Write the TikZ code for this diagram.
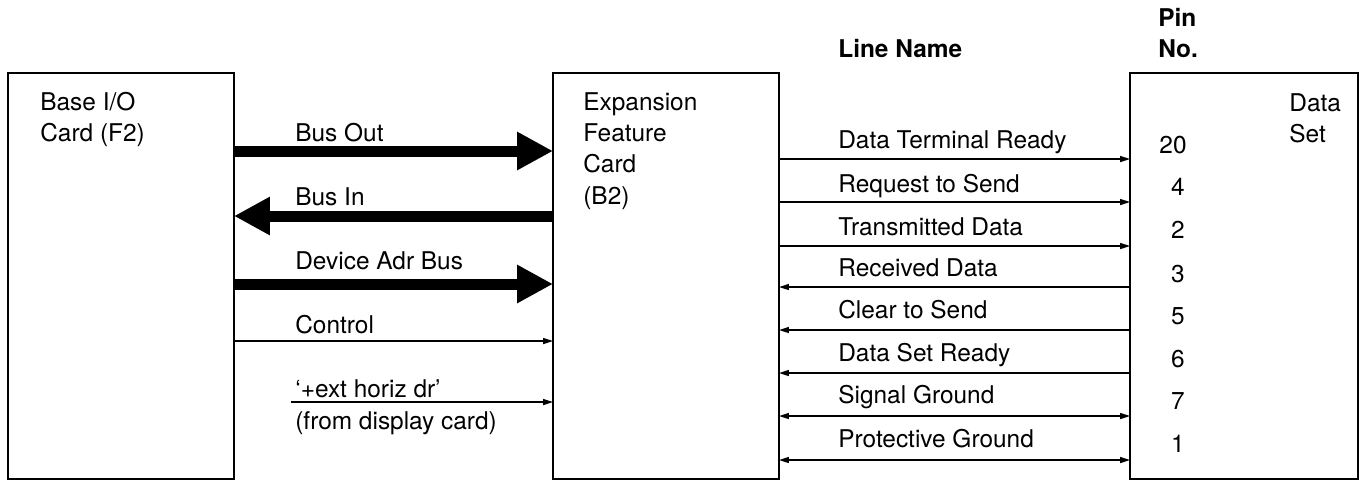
\documentclass[tikz,border=0pt]{standalone}
\usepackage{fontspec}
\setmainfont{TeX Gyre Heros}
\usetikzlibrary{arrows.meta, positioning}

\begin{document}
\begin{tikzpicture}[x=0.02cm, y=-0.02cm]
    % Setup the styles for the cards, texts and lines
        \tikzset{card style/.style={draw,
                                    line width=0.04cm,
                                    minimum width=4.52cm,
                                    minimum height=8.12cm,
                                    inner sep=0pt, outer sep=0pt},
                 text style/.style={anchor=base west,
                                    inner sep=0pt,
                                    font=\fontsize{13.9}{16}\selectfont},
                 pin style/.style={text style, anchor=base},
                 head style/.style={text style, font=\fontsize{13.9}{16}\selectfont\bfseries},
                 bus style/.style={line width=0.22cm,
                                   -{Triangle[length=0.72cm, width=0.72cm]}},
                 wire style/.style={line width=0.03cm,
                                    >={Triangle[length=0.2cm, width=0.12cm]}}}
        \useasboundingbox (0,0) rectangle (1361,481);
        % Draw the cards
        \node[card style] at (121, 276)  (base)      {};
        \node[card style] at (666, 276)  (expansion) {};
        \node[card style, minimum width=4.56cm] at (1244, 276) (dataset) {};
        \node[text style] at (40, 110)   (base1) {Base I/O};
        \node[text style] at (40, 141)   (base2) {Card (F2)};
        \node[text style] at (583, 110)  (exp1)  {Expansion};
        \node[text style] at (583, 141)  (exp2)  {Feature};
        \node[text style] at (583, 172)  (exp3)  {Card};
        \node[text style] at (583, 204)  (exp4)  {(B2)};
        \node[text style] at (1289, 111) (dset1) {Data};
        \node[text style] at (1289, 142) (dset2) {Set};
        % Headings
        \node[head style] at (838, 57)   (linename) {Line Name};
        \node[head style] at (1158, 26)  (pinhead)  {Pin};
        \node[head style] at (1158, 57)  (nohead)   {No.};
        % Buses between the base card and the expansion card
        \node[text style] at (295, 141) (busout) {Bus Out};
        \node[text style] at (295, 205) (busin)  {Bus In};
        \node[text style] at (295, 269) (devadr) {Device Adr Bus};
        \node[text style] at (295, 333) (control) {Control};
        \node[text style] at (295, 397) (exthoriz) {`+ext horiz dr'};
        \node[text style] at (295, 429) (fromdisp) {(from display card)};
        \coordinate (extfrom) at (291, 402);
        \draw[bus style] (base.east |- 0,151) -- (expansion.west |- 0,151);
        \draw[bus style] (expansion.west |- 0,216) -- (base.east |- 0,216);
        \draw[bus style] (base.east |- 0,284) -- (expansion.west |- 0,284);
        \draw[wire style, ->] (base.east |- 0,341) -- (expansion.west |- 0,341);
        \draw[wire style, ->] (extfrom) -- (expansion.west |- extfrom);
        % Lines to the data set
        \node[text style] at (838, 148) (dtr) {Data Terminal Ready};
        \node[text style] at (838, 192) (rts) {Request to Send};
        \node[text style] at (838, 235) (td)  {Transmitted Data};
        \node[text style] at (838, 276) (rd)  {Received Data};
        \node[text style] at (838, 318) (cts) {Clear to Send};
        \node[text style] at (838, 361) (dsr) {Data Set Ready};
        \node[text style] at (838, 403) (sg)  {Signal Ground};
        \node[text style] at (838, 447) (pg)  {Protective Ground};
        \node[pin style] at (1173, 153) (pin20) {20};
        \node[pin style] at (1178, 195) (pin4)  {4};
        \node[pin style] at (1178, 238) (pin2)  {2};
        \node[pin style] at (1178, 282) (pin3)  {3};
        \node[pin style] at (1178, 324) (pin5)  {5};
        \node[pin style] at (1178, 367) (pin6)  {6};
        \node[pin style] at (1178, 409) (pin7)  {7};
        \node[pin style] at (1178, 452) (pin1)  {1};
        \draw[wire style, ->]  (expansion.east |- 0,159) -- (dataset.west |- 0,159);
        \draw[wire style, ->]  (expansion.east |- 0,202) -- (dataset.west |- 0,202);
        \draw[wire style, ->]  (expansion.east |- 0,246) -- (dataset.west |- 0,246);
        \draw[wire style, <-]  (expansion.east |- 0,287) -- (dataset.west |- 0,287);
        \draw[wire style, <-]  (expansion.east |- 0,330) -- (dataset.west |- 0,330);
        \draw[wire style, <-]  (expansion.east |- 0,373) -- (dataset.west |- 0,373);
        \draw[wire style, <->] (expansion.east |- 0,416) -- (dataset.west |- 0,416);
        \draw[wire style, <->] (expansion.east |- 0,460) -- (dataset.west |- 0,460);
\end{tikzpicture}
\end{document}
